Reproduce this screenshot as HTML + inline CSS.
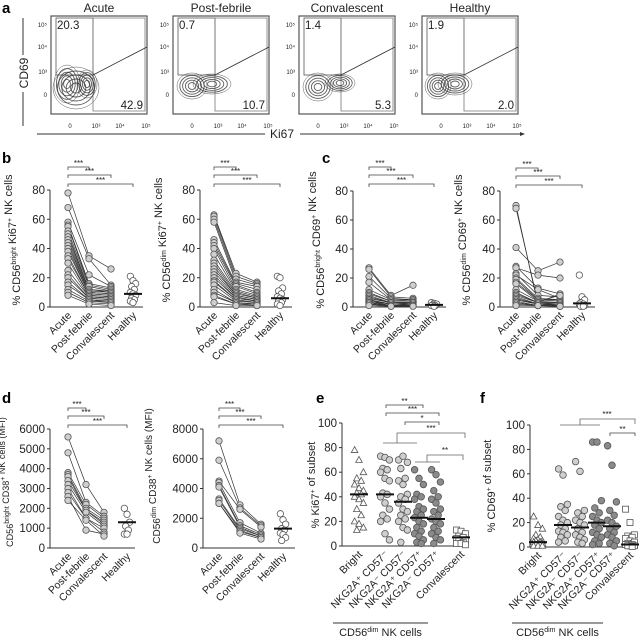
<!DOCTYPE html>
<html><head><meta charset="utf-8"><style>
html,body{margin:0;padding:0;background:#fff}
svg{display:block;font-family:"Liberation Sans",Arial,sans-serif}
</style></head><body>
<svg id="fig" width="642" height="639" viewBox="0 0 642 639" xmlns="http://www.w3.org/2000/svg"></svg>
<script>
// ---------- DATA ----------
const groups4 = ["Acute","Post-febrile","Convalescent","Healthy"];
const subsets = ["Bright","NKG2A\u207A CD57\u207B","NKG2A\u207B CD57\u207B","NKG2A\u207A CD57\u207A","NKG2A\u207B CD57\u207A","Convalescent"];
const flowTitles = ["Acute","Post-febrile","Convalescent","Healthy"];
const flowTopLeft = ["20.3","0.7","1.4","1.9"];
const flowBottomRight = ["42.9","10.7","5.3","2.0"];
const ticks80 = [0,20,40,60,80];
const ticks6000 = [0,1000,2000,3000,4000,5000,6000];
const ticks8000 = [0,2000,4000,6000,8000];
const ticks100 = [0,20,40,60,80,100];

const b1Acute = [78,68,58,56,55,52,50,48,46,44,42,40,38,35,33,30,25,22,20,17,15,12,10,8];
const b1Post  = [35,33,22,16,15,14,12,12,11,10,10,9,9,8,8,7,7,6,6,5,5,4,3,2];
const b1Conv  = [26,15,14,13,12,11,11,10,10,9,9,8,8,7,7,6,6,5,5,4,3,3,2,1];
const b1Healthy = [21,18,16,14,12,10,9,8,6,5,4,3];
const b1Median = 9;

const b2Acute = [63,62,60,58,46,44,42,40,36,32,30,28,26,24,22,20,18,17,15,12,10,8,7,3];
const b2Post  = [23,21,19,17,16,15,14,12,11,10,9,8,8,7,6,6,5,5,4,3,3,2,2,1];
const b2Conv  = [17,16,15,14,12,10,9,8,7,6,6,5,5,4,4,4,3,3,3,2,2,2,1,1];
const b2Healthy = [21,20,13,11,9,7,6,5,4,3,2,1];
const b2Median = 6;

const c1Acute = [27,26,21,17,12,10,9,8,7,6,6,5,5,5,4,4,4,3,3,3,2,2,2,1];
const c1Post  = [8,7,6,5,5,4,4,3,3,3,3,2,2,2,2,2,1,1,1,1,1,1,0.5,0.5];
const c1Conv  = [15,6,5,5,4,4,4,3,3,3,3,3,2,2,2,2,2,1,1,1,1,1,1,0.5];
const c1Healthy = [3,2.5,2,1.5,1,1,0.5];
const c1Median = 1.5;

const c2Acute = [70,68,41,28,27,23,22,20,19,17,16,12,10,9,8,7,6,5,5,4,3,3,2,1];
const c2Post  = [1,3,25,13,22,8,12,6,5,5,4,4,3,3,3,2,2,2,2,1,1,1,1,1];
const c2Conv  = [2,9,31,9,20,7,6,5,5,4,8,3,3,3,2,2,2,2,1,1,1,1,0.5,0.5];
const c2Healthy = [22,7,5,3,2,2,1,1,0.5,0.5];
const c2Median = 2.5;

const d1Acute = [5600,4800,3800,3700,3600,3400,3200,3000,2800,2600,2400];
const d1Post  = [3200,2300,2200,2000,1900,1900,1800,1500,1500,900,1400];
const d1Conv  = [1800,1600,1500,1400,1300,1200,1100,1000,800,700,600];
const d1Healthy = [2000,1700,1300,1100,900,700,700];
const d1Median = 1300;

const d2Acute = [7200,5900,4500,4400,4200,4100,3300,3200,3000,3000];
const d2Post  = [2900,2700,2600,1700,1500,1400,1300,1200,1100,1000];
const d2Conv  = [1600,1500,1400,1000,900,800,800,700,700,600];
const d2Healthy = [2300,1900,1600,1300,1200,1000,900,700,500];
const d2Median = 1300;

const eBright = [78,70,60,55,53,50,47,45,43,42,40,38,35,30,25,20,18,15,13];
const eA = [73,72,70,63,62,60,55,53,43,42,40,35,30,25,22,20,10,5];
const eB = [70,73,68,63,55,53,50,42,40,38,35,30,28,25,22,20,15,13,3];
const eC = [62,55,50,42,40,38,32,30,28,25,23,20,18,15,12,10,8,5,3,2];
const eD = [62,58,52,45,40,38,35,30,28,25,22,20,18,15,12,10,7,5,2];
const eConv = [13,12,10,8,7,6,5,5,4,3,2,2,1];
const eMedians = [42,42,36,23,22,7];

const fBright = [25,18,15,10,8,7,6,5,5,4,4,3,3,2,2,1,1,1];
const fA = [64,59,35,33,30,25,22,20,18,15,13,12,10,8,5,4];
const fB = [70,62,30,28,25,22,20,18,15,12,10,8,6,4,3];
const fC = [86,86,38,32,28,25,22,20,18,15,12,10,8,5,3,2];
const fD = [83,67,37,30,26,22,20,17,15,12,10,8,5,3,1];
const fConv = [31,20,10,9,8,7,5,4,3,2,2,1,1,1,0.5];
const fMedians = [4,18,16,20,17,2];

// ---------- HELPERS ----------
const NS = "http://www.w3.org/2000/svg";
const svg = document.getElementById("fig");
function mk(tag, attrs, parent, name){
  const el = document.createElementNS(NS, tag);
  for (const k in attrs) el.setAttribute(k, attrs[k]);
  
  
  (parent || svg).appendChild(el);
  return el;
}
function txt(x,y,s,size,name,extra,parent){
  const a = Object.assign({x:x,y:y,"font-size":size,fill:"#222"}, extra||{});
  const t = mk("text", a, parent, name);
  t.textContent = s;
  return t;
}
function jit(i){ return ((i*7)%5 - 2) * 2.2; }

function yAxis(x0, y0, y1, vmax, ticks, xEnd, name){
  const g = mk("g", {}, svg, name);
  const sc = v => y0 - (v/vmax)*(y0-y1);
  mk("line",{x1:x0,y1:y0,x2:x0,y2:y1,stroke:"#333","stroke-width":1},g,"y-axis-line");
  mk("line",{x1:x0,y1:y0,x2:xEnd,y2:y0,stroke:"#333","stroke-width":1},g,"x-axis-line");
  ticks.forEach(t=>{
    const y = sc(t);
    mk("line",{x1:x0-3,y1:y,x2:x0,y2:y,stroke:"#333"},g,"y-tick");
    txt(x0-5,y+4,String(t),11.5,"y-tick-label",{"text-anchor":"end"},g);
  });
  return sc;
}
function catLabels(xs, labels, y0, size){
  xs.forEach((x,i)=>{
    txt(x+4, y0+9, labels[i], size, "x-category-label",
      {"text-anchor":"end", transform:`rotate(-45 ${x+4} ${y0+9})`});
  });
}
function yTitle(x, y, parts, name, size){
  const t = mk("text",{x:x,y:y,"font-size":size||11,fill:"#222","text-anchor":"middle",transform:`rotate(-90 ${x} ${y})`},svg,name);
  parts.forEach(p=>{
    const s = document.createElementNS(NS,"tspan");
    if (p[1]) { s.setAttribute("font-size","7"); s.setAttribute("dy","-4"); }
    s.textContent = p[0];
    t.appendChild(s);
    if (p[1]) { const r = document.createElementNS(NS,"tspan"); r.setAttribute("dy","4"); r.textContent=""; t.appendChild(r); }
  });
}
function bracket(x1, x2, y, label, name){
  const g = mk("g",{},svg,name);
  mk("path",{d:`M${x1} ${y+3}V${y}H${x2}V${y+3}`,fill:"none",stroke:"#444","stroke-width":0.8},g,"bracket-line");
  txt((x1+x2)/2, y-1, label, 8, "significance-stars", {"text-anchor":"middle"}, g);
}
function circle(x,y,r,fill,name,parent){
  return mk("circle",{cx:x,cy:y,r:r,fill:fill,stroke:"#555","stroke-width":0.8},parent,name);
}
function pairedPlot(o){
  const sc = yAxis(o.x0, o.y0, o.y1, o.vmax, o.ticks, o.xEnd, o.name+"-axes");
  const g = mk("g",{},svg,o.name+"-data");
  const series = [o.acute, o.post, o.conv];
  for (let i=0;i<o.acute.length;i++){
    const pts = series.map((s,k)=>[o.xs[k], sc(s[i])]);
    mk("polyline",{points:pts.map(p=>p.join(",")).join(" "),fill:"none",stroke:"#333","stroke-width":0.7},g,"patient-line");
  }
  series.forEach((s,k)=>s.forEach(v=>circle(o.xs[k], sc(v), 3.2, "#cfcfcf", "patient-point", g)));
  o.healthy.forEach((v,i)=>circle(o.xs[3]+jit(i)*0.6, sc(v), 3.2, "#fff", "healthy-point", g));
  mk("line",{x1:o.xs[3]-9,y1:sc(o.median),x2:o.xs[3]+9,y2:sc(o.median),stroke:"#111","stroke-width":2},g,"healthy-median");
  catLabels(o.xs, groups4, o.y0, 10.5);
  bracket(o.xs[0], o.xs[1], o.br[0], "***", "bracket-acute-postfebrile");
  bracket(o.xs[0], o.xs[2], o.br[1], "***", "bracket-acute-convalescent");
  bracket(o.xs[0], o.xs[3], o.br[2], "***", "bracket-acute-healthy");
}
function subsetPlot(o){
  const sc = yAxis(o.x0, o.y0, o.y1, 100, ticks100, o.xEnd, o.name+"-axes");
  const g = mk("g",{},svg,o.name+"-data");
  o.data.forEach((arr,k)=>{
    arr.forEach((v,i)=>{
      const x = o.xs[k] + jit(i), y = sc(v);
      if (k===0) mk("path",{d:`M${x} ${y-3.5}L${x+3.3} ${y+2.5}H${x-3.3}Z`,fill:"#fff",stroke:"#555","stroke-width":0.8},g,"bright-point");
      else if (k===5) mk("rect",{x:x-3,y:y-3,width:6,height:6,fill:"#fff",stroke:"#555","stroke-width":0.8},g,"convalescent-point");
      else circle(x,y,3.3,k<3?"#cfcfcf":"#8a8a8a","subset-point",g);
    });
    mk("line",{x1:o.xs[k]-9,y1:sc(o.medians[k]),x2:o.xs[k]+9,y2:sc(o.medians[k]),stroke:"#111","stroke-width":2},g,"subset-median");
  });
  catLabels(o.xs, subsets, o.y0, 10.5);
  mk("line",{x1:o.groupLine[0],y1:623,x2:o.groupLine[1],y2:623,stroke:"#333"},svg,"cd56dim-group-line");
  const t = mk("text",{x:(o.groupLine[0]+o.groupLine[1])/2,y:636,"font-size":11,fill:"#222","text-anchor":"middle"},svg,"cd56dim-group-label");
  t.innerHTML = 'CD56<tspan font-size="7" dy="-4">dim</tspan><tspan dy="4"> NK cells</tspan>';
}
function panelLetter(x,y,s){ txt(x,y,s,15,"panel-letter-"+s,{"font-weight":"bold",fill:"#000"}); }

// ---------- PANEL A: flow plots ----------
panelLetter(2,13,"a");
const flowLefts = [51,173,299,422];
const blobSets = [
  [[67,84,12,18],[87,84,9,13],[76,88,22,20]],
  [[70,86,14,12],[90,84,18,9]],
  [[70,87,14,13],[92,83,14,8]],
  [[67,86,12,12],[84,84,16,10]]
];
flowLefts.forEach((L,p)=>{
  const g = mk("g",{},svg,"flow-plot-"+(p+1));
  txt(L+48,12,flowTitles[p],12,"flow-plot-title",{"text-anchor":"middle"},g);
  mk("rect",{x:L,y:16,width:96,height:98,fill:"none",stroke:"#555","stroke-width":1.2},g,"flow-frame");
  mk("rect",{x:L+5,y:18,width:37,height:57,fill:"none",stroke:"#555","stroke-width":0.8},g,"cd69-gate");
  mk("path",{d:`M${L+42} 18V111H${L+94}V18Z`,fill:"none",stroke:"#777","stroke-width":0.8},g,"ki67-gate");
  mk("line",{x1:L+42,y1:75,x2:L+96,y2:47,stroke:"#333","stroke-width":0.8},g,"gate-diagonal");
  blobSets[p].forEach(b=>{
    const cx=L+(b[0]-51), cy=b[1];
    for(let k=1;k<=5;k++){
      mk("ellipse",{cx:cx,cy:cy,rx:b[2]*k/5+1,ry:b[3]*k/5+1,fill:"none",stroke:"#333","stroke-width":k===5?0.5:0.9,opacity:0.8},g,"contour");
    }
  });
  txt(L+6,29,flowTopLeft[p],11.5,"cd69-percent",{},g);
  txt(L+92,109,flowBottomRight[p],11.5,"ki67-percent",{"text-anchor":"end"},g);
  [["10\u2075",25],["10\u2074",47],["10\u00B3",72],["0",95]].forEach(t=>{
    txt(L-4,t[1]+2,t[0],6,"y-tick-label",{"text-anchor":"end"},g);
  });
  [["0",19],["10\u00B3",45],["10\u2074",69],["10\u2075",95]].forEach(t=>{
    txt(L+t[1],128,t[0],6,"x-tick-label",{"text-anchor":"middle"},g);
  });
});
mk("text",{x:28,y:73,"font-size":12,fill:"#222","text-anchor":"middle",transform:"rotate(-90 28 73)"},svg,"cd69-axis-title").textContent="CD69";
mk("line",{x1:23,y1:18,x2:23,y2:55,stroke:"#333"},svg,"cd69-axis-line-top");
mk("line",{x1:23,y1:92,x2:23,y2:126,stroke:"#333"},svg,"cd69-axis-line-bottom");
txt(282,138,"Ki67",12,"ki67-axis-title",{"text-anchor":"middle"});
mk("line",{x1:37,y1:134,x2:265,y2:134,stroke:"#333"},svg,"ki67-axis-line-left");
mk("line",{x1:300,y1:134,x2:522,y2:134,stroke:"#333"},svg,"ki67-axis-line-right");
mk("path",{d:"M525 134l-5 -2v4z",fill:"#333"},svg,"ki67-arrow");

// ---------- PANEL B ----------
panelLetter(2,163,"b");
pairedPlot({name:"b-bright",x0:50,y0:307,y1:190,vmax:80,ticks:ticks80,xEnd:143,xs:[68,89,111,133],
  acute:b1Acute,post:b1Post,conv:b1Conv,healthy:b1Healthy,median:b1Median,br:[167,175,184]});
yTitle(20,240,[["% CD56"],["bright","sup"],[" Ki67"],["+","sup"],[" NK cells"]],"b-bright-y-title",11);
pairedPlot({name:"b-dim",x0:200,y0:307,y1:190,vmax:80,ticks:ticks80,xEnd:292,xs:[214,236,257,280],
  acute:b2Acute,post:b2Post,conv:b2Conv,healthy:b2Healthy,median:b2Median,br:[167,175,184]});
yTitle(170,240,[["% CD56"],["dim","sup"],[" Ki67"],["+","sup"],[" NK cells"]],"b-dim-y-title",11);

// ---------- PANEL C ----------
panelLetter(322,163,"c");
pairedPlot({name:"c-bright",x0:353,y0:307,y1:191,vmax:80,ticks:ticks80,xEnd:446,xs:[369,391,413,434],
  acute:c1Acute,post:c1Post,conv:c1Conv,healthy:c1Healthy,median:c1Median,br:[167,175,184]});
yTitle(324,240,[["% CD56"],["bright","sup"],[" CD69"],["+","sup"],[" NK cells"]],"c-bright-y-title",11);
pairedPlot({name:"c-dim",x0:500,y0:307,y1:191,vmax:80,ticks:ticks80,xEnd:595,xs:[516,538,560,582],
  acute:c2Acute,post:c2Post,conv:c2Conv,healthy:c2Healthy,median:c2Median,br:[168,176,185]});
yTitle(470,240,[["% CD56"],["dim","sup"],[" CD69"],["+","sup"],[" NK cells"]],"c-dim-y-title",11);

// ---------- PANEL D ----------
panelLetter(2,403,"d");
pairedPlot({name:"d-bright",x0:50,y0:548,y1:429,vmax:6000,ticks:ticks6000,xEnd:135,xs:[68,86,104,127],
  acute:d1Acute,post:d1Post,conv:d1Conv,healthy:d1Healthy,median:d1Median,br:[408,416,425]});
yTitle(13,482,[["CD56"],["bright","sup"],[" CD38"],["+","sup"],[" NK cells (MFI)"]],"d-bright-y-title",9);
pairedPlot({name:"d-dim",x0:203,y0:548,y1:429,vmax:8000,ticks:ticks8000,xEnd:295,xs:[219,240,261,283],
  acute:d2Acute,post:d2Post,conv:d2Conv,healthy:d2Healthy,median:d2Median,br:[408,416,425]});
yTitle(160,476,[["CD56"],["dim","sup"],[" CD38"],["+","sup"],[" NK cells (MFI)"]],"d-dim-y-title",10);

// ---------- PANEL E ----------
panelLetter(316,403,"e");
subsetPlot({name:"e",x0:342,y0:546,y1:423,xEnd:467,xs:[359,385,403,419,436,461],
  data:[eBright,eA,eB,eC,eD,eConv],medians:eMedians,groupLine:[333,428]});
yTitle(319,485,[["% Ki67"],["+","sup"],[" of subset"]],"e-y-title",11);
mk("path",{d:"M383 443H417M397 443V433H465V438",fill:"none",stroke:"#666","stroke-width":0.8},svg,"e-group-bracket");
txt(431,431,"***",8,"significance-stars",{"text-anchor":"middle"});
bracket(386,423,405,"**","e-bracket-1");
bracket(386,439,413,"***","e-bracket-2");
bracket(405,439,422,"*","e-bracket-3");
mk("path",{d:"M415 462H440M427 462V455H463V460",fill:"none",stroke:"#666","stroke-width":0.8},svg,"e-group-bracket-2");
txt(445,453,"**",8,"significance-stars",{"text-anchor":"middle"});

// ---------- PANEL F ----------
panelLetter(480,403,"f");
subsetPlot({name:"f",x0:530,y0:547,y1:425,xEnd:638,xs:[538,563,580,597,612,630],
  data:[fBright,fA,fB,fC,fD,fConv],medians:fMedians,groupLine:[512,603]});
yTitle(495,486,[["% CD69"],["+","sup"],[" of subset"]],"f-y-title",11);
mk("path",{d:"M560 425H600M580 425V419H635V424",fill:"none",stroke:"#666","stroke-width":0.8},svg,"f-group-bracket");
txt(607,417,"***",8,"significance-stars",{"text-anchor":"middle"});
bracket(610,635,433,"**","f-bracket-2");
</script>
</body></html>
